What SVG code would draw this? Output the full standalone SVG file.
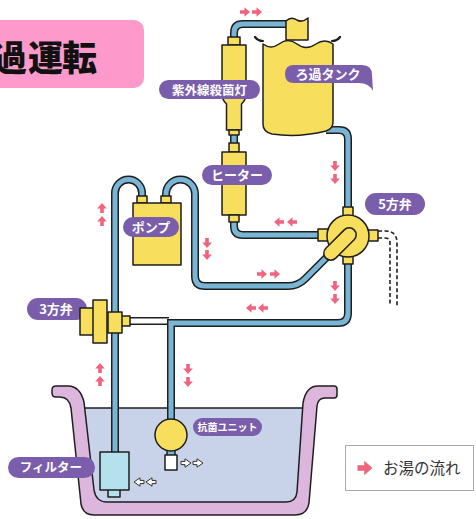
<svg xmlns="http://www.w3.org/2000/svg" xmlns:xlink="http://www.w3.org/1999/xlink" width="476" height="519" viewBox="0 0 476 519">
  <style>
    .ol { stroke: #1e1e1e; stroke-width: 1.5; stroke-linejoin: round; }
    .yel { fill: #f7de5c; }
    .pipe-o { fill: none; stroke: #1e1e1e; stroke-width: 8; }
    .pipe-i { fill: none; stroke: #79b5d5; stroke-width: 5; }
    .pill { fill: #7a5eab; }
    .lbl { font-family: "Noto Sans CJK JP", "Noto Sans", sans-serif; font-weight: 700; fill: #ffffff; text-anchor: middle; }
    .flow { fill: #f0647e; }
    .out-ar { fill: #ffffff; stroke: #333333; stroke-width: 1; }
  </style>
  <defs>
    <!-- small block arrow, pointing right, centred on the origin -->
    <path id="ar" d="M-5,-1.8 L-0.5,-1.8 L-0.5,-4.8 L5,0 L-0.5,4.8 L-0.5,1.8 L-5,1.8 Z"/>
    <path id="oar" d="M-5,-1.6 L-1,-1.6 L-1,-4.2 L5,0 L-1,4.2 L-1,1.6 L-5,1.6 Z"/>
    <!-- pipe centre lines -->
    <path id="pA" d="M234,40 L234,33 Q234,24 243,24 L290,24"/>
    <path id="pB" d="M234,131 L234,146"/>
    <path id="pC" d="M234,220 L234,226 Q234,235 243,235 L320,235"/>
    <path id="pD" d="M326,130 L339,130 Q348,130 348,139 L348,210"/>
    <path id="pE" d="M348,260 L348,313 Q348,323 338,323 L171,323 L171,421"/>
    <path id="pF" d="M115,455 L115,193 A13.5,13.5 0 0 1 142,193 L142,198"/>
    <path id="pG" d="M166,198 L166,194 A14.5,14.5 0 0 1 195,194 L195,276 Q195,286 205,286 L288,286 Q298,286 305,279 L328,256"/>
  </defs>

  <rect width="476" height="519" fill="#ffffff"/>

  <!-- title -->
  <g id="title">
    <rect x="-12" y="20" width="156" height="68" rx="10" fill="#fd9acb"/>
    <text x="-8 28 62" y="71" font-family="'Noto Sans CJK JP', sans-serif" font-weight="900" font-size="35" fill="#111111">過運転</text>
  </g>

  <!-- bath tub with water -->
  <g id="bath">
    <path d="M82,408 L305,408 L299,504 L92,504 Z" fill="#c8d3ea"/>
    <line x1="84" y1="408" x2="303" y2="408" stroke="#1e1e1e" stroke-width="1.5"/>
    <path class="ol" fill="#dcb6dc" d="M52,390 Q52,386 56,386 L68,386 Q80,386 84,402 L94,490 Q96,502 107,502 L286,502 Q296,502 297,492 L303,403 Q306,386 318,386 L334,386 Q337,386 337,389 L337,395 Q337,398 334,398 L325,398 Q318,398 317,406 L309,503 Q307,515 295,515 L94,515 Q83,515 81,504 L71,408 Q69,397 60,397 L56,397 Q52,397 52,393 Z"/>
  </g>

  <!-- piping -->
  <g id="connectors">
    <path d="M126,321 L169,321" fill="none" stroke="#1e1e1e" stroke-width="8"/>
    <path d="M126,321 L169,321" fill="none" stroke="#ffffff" stroke-width="5"/>
    <use xlink:href="#pA" class="pipe-o"/><use xlink:href="#pA" class="pipe-i"/>
    <use xlink:href="#pB" class="pipe-o"/><use xlink:href="#pB" class="pipe-i"/>
    <use xlink:href="#pC" class="pipe-o"/><use xlink:href="#pC" class="pipe-i"/>
    <use xlink:href="#pD" class="pipe-o"/><use xlink:href="#pD" class="pipe-i"/>
    <use xlink:href="#pE" class="pipe-o" stroke-linejoin="miter"/><use xlink:href="#pE" class="pipe-i" stroke-linejoin="miter"/>
    <use xlink:href="#pF" class="pipe-o"/><use xlink:href="#pF" class="pipe-i"/>
    <use xlink:href="#pG" class="pipe-o"/><use xlink:href="#pG" class="pipe-i"/>
    <!-- drain line, drawn dashed -->
    <g fill="none" stroke="#1e1e1e" stroke-width="1.6" stroke-dasharray="4 2.5">
      <path d="M378,231 L385,231 Q397,231 397,243 L397,306"/>
      <path d="M378,238 L385,238 Q390,238 390,243 L390,306"/>
    </g>
  </g>

  <!-- filtration tank -->
  <g id="tank">
    <path class="ol yel" d="M286,40 L286,21 Q291,16 297,20 Q302,23 308,18 L308,40 Z"/>
    <path class="ol yel" d="M263,44 Q271,50 279,44 Q288,37 297,44 Q306,51 316,44 Q325,38 333,44 L333,122 Q333,129 326,131 Q298,138 272,134 Q263,132 263,124 Z"/>
    <path d="M255,37 Q258,41 263,41 M332,41 Q337,41 340,37" fill="none" stroke="#1e1e1e" stroke-width="2.2" stroke-linecap="round"/>
    <path class="pill" d="M294,65 L362,65 Q372,65 372,75 L373,91 Q369,83 359,83 L294,83 Q285,83 285,74 Q285,65 294,65 Z"/>
    <text class="lbl" x="328" y="79" font-size="13">ろ過タンク</text>
  </g>

  <!-- UV sterilising lamp -->
  <g id="uv-lamp">
    <rect class="ol yel" x="228" y="37" width="12" height="8"/>
    <path class="ol yel" d="M222,45 L246,45 L246,94 Q246,100 241.5,104 L241.5,130 L226.5,130 L226.5,104 Q222,100 222,94 Z"/>
    <rect class="ol yel" x="229" y="130" width="10" height="5"/>
    <rect class="pill" x="159" y="80" width="101" height="19" rx="9.5"/>
    <text class="lbl" x="209.5" y="94.5" font-size="12.5">紫外線殺菌灯</text>
  </g>

  <!-- heater -->
  <g id="heater">
    <rect class="ol yel" x="229" y="143" width="10" height="9"/>
    <rect class="ol yel" x="222" y="152" width="24" height="63"/>
    <rect class="ol yel" x="229" y="215" width="10" height="7"/>
    <rect class="pill" x="202" y="165" width="70" height="20" rx="10"/>
    <text class="lbl" x="237" y="180" font-size="13">ヒーター</text>
  </g>

  <!-- pump -->
  <g id="pump">
    <rect class="ol yel" x="137" y="196" width="10" height="7"/>
    <rect class="ol yel" x="161" y="196" width="10" height="7"/>
    <rect class="ol yel" x="133" y="203" width="48" height="62"/>
    <rect class="pill" x="123" y="217" width="56" height="20" rx="10"/>
    <text class="lbl" x="151" y="232" font-size="13">ポンプ</text>
  </g>

  <!-- five-way valve -->
  <g id="valve5">
    <rect class="ol yel" x="343" y="207" width="10" height="10"/>
    <rect class="ol yel" x="343" y="255" width="10" height="9"/>
    <rect class="ol yel" x="318" y="229" width="11" height="12"/>
    <rect class="ol yel" x="367" y="230" width="11" height="11"/>
    <circle class="ol yel" cx="348" cy="236" r="21"/>
    <rect class="ol yel" x="-20" y="-7" width="40" height="14" rx="7" transform="translate(340,244) rotate(-45)"/>
    <rect class="pill" x="365" y="193" width="60" height="22" rx="11"/>
    <text class="lbl" x="395" y="209" font-size="13">5方弁</text>
  </g>

  <!-- three-way valve -->
  <g id="valve3">
    <rect class="pill" x="27" y="298" width="60" height="22" rx="11"/>
    <text class="lbl" x="56" y="314" font-size="13">3方弁</text>
    <rect class="ol yel" x="80" y="308" width="15" height="27"/>
    <rect class="ol yel" x="93" y="300" width="14" height="43"/>
    <rect class="ol yel" x="121" y="316" width="9" height="10"/>
    <rect class="ol yel" x="108" y="312" width="14" height="21"/>
  </g>

  <!-- filter -->
  <g id="filter">
    <rect class="ol" fill="#b5e0ee" x="108" y="488" width="12" height="9"/>
    <rect class="ol" fill="#b5e0ee" x="100" y="452" width="29" height="38"/>
    <rect class="pill" x="8" y="457" width="87" height="21" rx="10.5"/>
    <text class="lbl" x="51" y="472" font-size="12.5">フィルター</text>
    <use xlink:href="#oar" class="out-ar" transform="translate(139,482) rotate(180)"/>
    <use xlink:href="#oar" class="out-ar" transform="translate(151,482) rotate(180)"/>
  </g>

  <!-- antibacterial unit -->
  <g id="antibac-unit">
    <rect class="ol" fill="#79b5d5" x="167" y="448" width="8" height="8"/>
    <circle class="ol yel" cx="171" cy="435" r="16"/>
    <rect class="ol" fill="#ffffff" x="165" y="455" width="12" height="15"/>
    <rect class="pill" x="193" y="418" width="69" height="18" rx="9"/>
    <text class="lbl" x="227.5" y="431" font-size="10">抗菌ユニット</text>
    <use xlink:href="#oar" class="out-ar" transform="translate(186,463)"/>
    <use xlink:href="#oar" class="out-ar" transform="translate(198,463)"/>
  </g>

  <!-- flow direction marks -->
  <g id="flow-marks" class="flow">
    <use xlink:href="#ar" transform="translate(245,12)"/>
    <use xlink:href="#ar" transform="translate(257,12)"/>
    <use xlink:href="#ar" transform="translate(102,208) rotate(-90)"/>
    <use xlink:href="#ar" transform="translate(102,221) rotate(-90)"/>
    <use xlink:href="#ar" transform="translate(100,368) rotate(-90)"/>
    <use xlink:href="#ar" transform="translate(100,381) rotate(-90)"/>
    <use xlink:href="#ar" transform="translate(188,369) rotate(90)"/>
    <use xlink:href="#ar" transform="translate(188,382) rotate(90)"/>
    <use xlink:href="#ar" transform="translate(207,243) rotate(90)"/>
    <use xlink:href="#ar" transform="translate(207,255) rotate(90)"/>
    <use xlink:href="#ar" transform="translate(262,274)"/>
    <use xlink:href="#ar" transform="translate(275,274)"/>
    <use xlink:href="#ar" transform="translate(251,308) rotate(180)"/>
    <use xlink:href="#ar" transform="translate(263,308) rotate(180)"/>
    <use xlink:href="#ar" transform="translate(279,222) rotate(180)"/>
    <use xlink:href="#ar" transform="translate(292,222) rotate(180)"/>
    <use xlink:href="#ar" transform="translate(335,166) rotate(90)"/>
    <use xlink:href="#ar" transform="translate(335,179) rotate(90)"/>
    <use xlink:href="#ar" transform="translate(335,286) rotate(90)"/>
    <use xlink:href="#ar" transform="translate(335,299) rotate(90)"/>
  </g>

  <!-- legend -->
  <g id="legend">
    <rect x="345.5" y="445.5" width="128" height="45" fill="#ffffff" stroke="#aaaaaa" stroke-width="1"/>
    <use xlink:href="#ar" class="flow" transform="translate(365,468) scale(1.5)"/>
    <text x="383" y="474" font-family="'Noto Sans CJK JP', sans-serif" font-size="15.5" fill="#333333">お湯の流れ</text>
  </g>
</svg>
